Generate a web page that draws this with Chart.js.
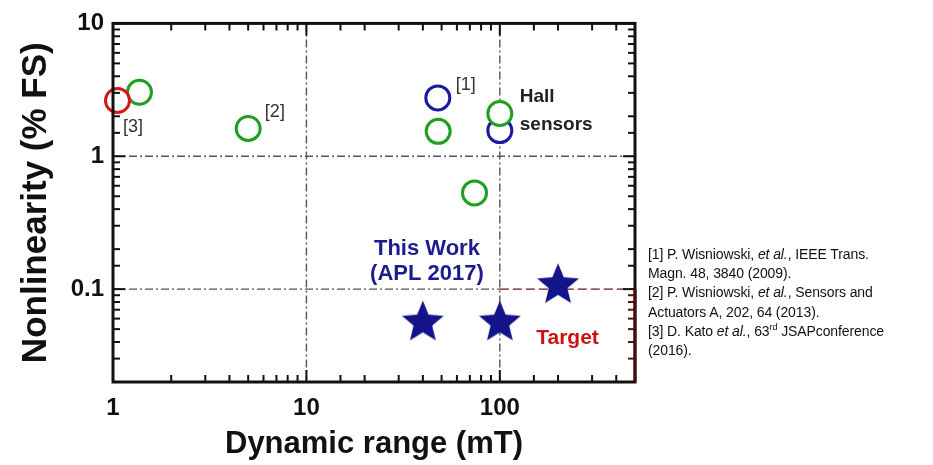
<!DOCTYPE html>
<html>
<head>
<meta charset="utf-8">
<script src="https://cdn.jsdelivr.net/npm/chart.js@4"></script>
<style>
    body { margin: 0; background: #fff; }
    #wrap { position: relative; width: 933px; height: 465px; }
    #refs {
        position: absolute;
        left: 648px;
        top: 245px;
        font: 14px "Liberation Sans", Arial, sans-serif;
        letter-spacing: -0.1px;
        line-height: 19.2px;
        color: #111;
        white-space: nowrap;
    }
    #refs sup { font-size: 9px; line-height: 0; }
</style>
</head>
<body>
<div id="wrap">
    <canvas id="chart" width="933" height="465"></canvas>
    <div id="refs">
        [1] P. Wisniowski, <i>et al.</i>, IEEE Trans.<br>
        Magn. 48, 3840 (2009).<br>
        [2] P. Wisniowski, <i>et al.</i>, Sensors and<br>
        Actuators A, 202, 64 (2013).<br>
        [3] D. Kato <i>et al.</i>, 63<sup>rd</sup> JSAPconference<br>
        (2016).
    </div>
</div>
<script>
// ==================== Data ====================
const xTickValues = [1, 10, 100];
const xTickLabels = ['1', '10', '100'];
const yTickValues = [0.1, 1, 10];
const yTickLabels = ['0.1', '1', '10'];

// Hall sensors (green), ref [1] (blue), ref [3] (red), this work (stars)
const hallX = [1.37, 5.0, 48, 100, 74];
const hallY = [3.03, 1.62, 1.54, 2.1, 0.53];
const ref1X = [47.8, 100];
const ref1Y = [2.75, 1.56];
const ref3X = [1.055];
const ref3Y = [2.63];
const workX = [40, 100, 200];
const workY = [0.056, 0.056, 0.107];

// target corner (x from, y below)
const targetX = 100;
const targetY = 0.1;

// text notes anchored in data space
const notes = [
    { text: '[3]', x: 1.27, y: 1.67, font: '18px "Liberation Sans", Arial', color: '#333', align: 'center' },
    { text: '[2]', x: 6.87, y: 2.17, font: '18px "Liberation Sans", Arial', color: '#333', align: 'center' },
    { text: '[1]', x: 66.7, y: 3.44, font: '18px "Liberation Sans", Arial', color: '#333', align: 'center' },
    { text: 'Hall', x: 126.8, y: 2.8, font: 'bold 19px "Liberation Sans", Arial', color: '#222', align: 'left' },
    { text: 'sensors', x: 126.8, y: 1.73, font: 'bold 19px "Liberation Sans", Arial', color: '#222', align: 'left' },
    { text: 'This Work', x: 42, y: 0.199, font: 'bold 22px "Liberation Sans", Arial', color: '#1c1c8c', align: 'center' },
    { text: '(APL 2017)', x: 42, y: 0.129, font: 'bold 22px "Liberation Sans", Arial', color: '#1c1c8c', align: 'center' },
    { text: 'Target', x: 224, y: 0.043, font: 'bold 21px "Liberation Sans", Arial', color: '#cc1111', align: 'center' }
];

const toPoints = (xs, ys) => xs.map((x, i) => ({ x: x, y: ys[i] }));
const isDecade = v => Math.abs(Math.log10(v) - Math.round(Math.log10(v))) < 1e-6;
const labelFor = (v, values, labels) => {
    const i = values.findIndex(t => Math.abs(Math.log10(t) - Math.log10(v)) < 1e-6);
    return i >= 0 ? labels[i] : '';
};

// ==================== Star marker ====================
function makeStar(R, r, color) {
    const size = Math.ceil(R * 2) + 2;
    const c = document.createElement('canvas');
    c.width = c.height = size;
    const g = c.getContext('2d');
    g.beginPath();
    for (let i = 0; i < 10; i++) {
        const rad = i % 2 === 0 ? R : r;
        const a = -Math.PI / 2 + i * Math.PI / 5;
        const px = size / 2 + rad * Math.cos(a);
        const py = size / 2 + rad * Math.sin(a);
        i === 0 ? g.moveTo(px, py) : g.lineTo(px, py);
    }
    g.closePath();
    g.fillStyle = color;
    g.fill();
    return c;
}
const starImg = makeStar(22, 9.8, '#14148a');

// ==================== Plugins ====================
const frame = {
    id: 'frame',
    beforeDatasetsDraw(chart) {
        const { ctx, chartArea: a, scales: { x, y } } = chart;
        ctx.save();
        ctx.lineWidth = 1.4;
        ctx.strokeStyle = '#555';
        ctx.setLineDash([8, 3, 2, 3]);
        xTickValues.forEach(v => {
            const px = x.getPixelForValue(v);
            if (px <= a.left + 1 || px >= a.right - 1) return;
            ctx.beginPath();
            ctx.moveTo(px, a.top);
            ctx.lineTo(px, a.bottom);
            ctx.stroke();
        });
        yTickValues.forEach(v => {
            const py = y.getPixelForValue(v);
            if (py <= a.top + 1 || py >= a.bottom - 1) return;
            const end = v === targetY ? x.getPixelForValue(targetX) : a.right;
            ctx.beginPath();
            ctx.moveTo(a.left, py);
            ctx.lineTo(end, py);
            ctx.stroke();
        });
        // target edge
        ctx.strokeStyle = '#6a1414';
        ctx.setLineDash([9, 4]);
        ctx.beginPath();
        ctx.moveTo(x.getPixelForValue(targetX), y.getPixelForValue(targetY));
        ctx.lineTo(a.right, y.getPixelForValue(targetY));
        ctx.stroke();
        ctx.restore();
    },
    afterDraw(chart) {
        const { ctx, chartArea: a, scales: { x, y } } = chart;
        const ty = y.getPixelForValue(targetY);
        ctx.save();
        ctx.lineWidth = 2;
        x.ticks.forEach(t => {
            const px = x.getPixelForValue(t.value);
            const len = isDecade(t.value) ? 12 : 7;
            ctx.strokeStyle = '#111';
            ctx.beginPath();
            ctx.moveTo(px, a.bottom);
            ctx.lineTo(px, a.bottom - len);
            ctx.moveTo(px, a.top);
            ctx.lineTo(px, a.top + len);
            ctx.stroke();
        });
        y.ticks.forEach(t => {
            const py = y.getPixelForValue(t.value);
            const len = isDecade(t.value) ? 12 : 7;
            ctx.strokeStyle = '#111';
            ctx.beginPath();
            ctx.moveTo(a.left, py);
            ctx.lineTo(a.left + len, py);
            ctx.stroke();
            ctx.strokeStyle = py > ty + 1 ? '#5a1010' : '#111';
            ctx.beginPath();
            ctx.moveTo(a.right, py);
            ctx.lineTo(a.right - len, py);
            ctx.stroke();
        });
        // box
        ctx.lineWidth = 3;
        ctx.strokeStyle = '#111';
        ctx.strokeRect(a.left, a.top, a.right - a.left, a.bottom - a.top);
        ctx.strokeStyle = '#4a0c0c';
        ctx.beginPath();
        ctx.moveTo(a.right, ty);
        ctx.lineTo(a.right, a.bottom);
        ctx.stroke();

        // notes
        ctx.textBaseline = 'middle';
        notes.forEach(n => {
            ctx.font = n.font;
            ctx.fillStyle = n.color;
            ctx.textAlign = n.align;
            ctx.fillText(n.text, x.getPixelForValue(n.x), y.getPixelForValue(n.y));
        });
        ctx.restore();
    }
};

// ==================== Chart ====================
const circle = (color) => ({
    pointStyle: 'circle',
    pointRadius: 12,
    pointBorderWidth: 3,
    pointBorderColor: color,
    pointBackgroundColor: '#fff',
    showLine: false,
    clip: false
});

const ctx = document.getElementById('chart').getContext('2d');
new Chart(ctx, {
    type: 'scatter',
    data: {
        datasets: [
            { label: 'This work', data: toPoints(workX, workY), pointStyle: starImg, showLine: false, clip: false, order: 0 },
            { label: '[3]', data: toPoints(ref3X, ref3Y), ...circle('#d41818'), order: 1 },
            { label: 'Hall sensors', data: toPoints(hallX, hallY), ...circle('#1f9e1f'), order: 2 },
            { label: '[1]', data: toPoints(ref1X, ref1Y), ...circle('#1a1aa0'), order: 3 }
        ]
    },
    options: {
        responsive: false,
        animation: false,
        devicePixelRatio: 1,
        layout: { padding: { top: 19, right: 298, bottom: 0, left: 0 } },
        plugins: {
            legend: { display: false },
            tooltip: { enabled: false }
        },
        scales: {
            x: {
                type: 'logarithmic',
                position: 'bottom',
                min: 1,
                max: 500,
                grid: { display: false, drawTicks: false },
                border: { display: false },
                afterFit(scale) { scale.height = 83; },
                ticks: {
                    autoSkip: false,
                    maxRotation: 0,
                    minRotation: 0,
                    padding: 12,
                    color: '#111',
                    font: { family: '"Liberation Sans", Arial', size: 24, weight: 'bold' },
                    callback: v => labelFor(v, xTickValues, xTickLabels)
                },
                title: {
                    display: true,
                    text: 'Dynamic range (mT)',
                    color: '#111',
                    padding: { top: 0, bottom: 2 },
                    font: { family: '"Liberation Sans", Arial', size: 31, weight: 'bold' }
                }
            },
            y: {
                type: 'logarithmic',
                position: 'left',
                min: 0.02,
                max: 10,
                grid: { display: false, drawTicks: false },
                border: { display: false },
                afterFit(scale) { scale.width = 113; },
                ticks: {
                    autoSkip: false,
                    padding: 9,
                    color: '#111',
                    font: { family: '"Liberation Sans", Arial', size: 24, weight: 'bold' },
                    callback: v => labelFor(v, yTickValues, yTickLabels)
                },
                title: {
                    display: true,
                    text: 'Nonlinearity (% FS)',
                    color: '#111',
                    padding: { top: 15, bottom: 0 },
                    font: { family: '"Liberation Sans", Arial', size: 35, weight: 'bold' }
                }
            }
        }
    },
    plugins: [frame]
});
</script>
</body>
</html>
